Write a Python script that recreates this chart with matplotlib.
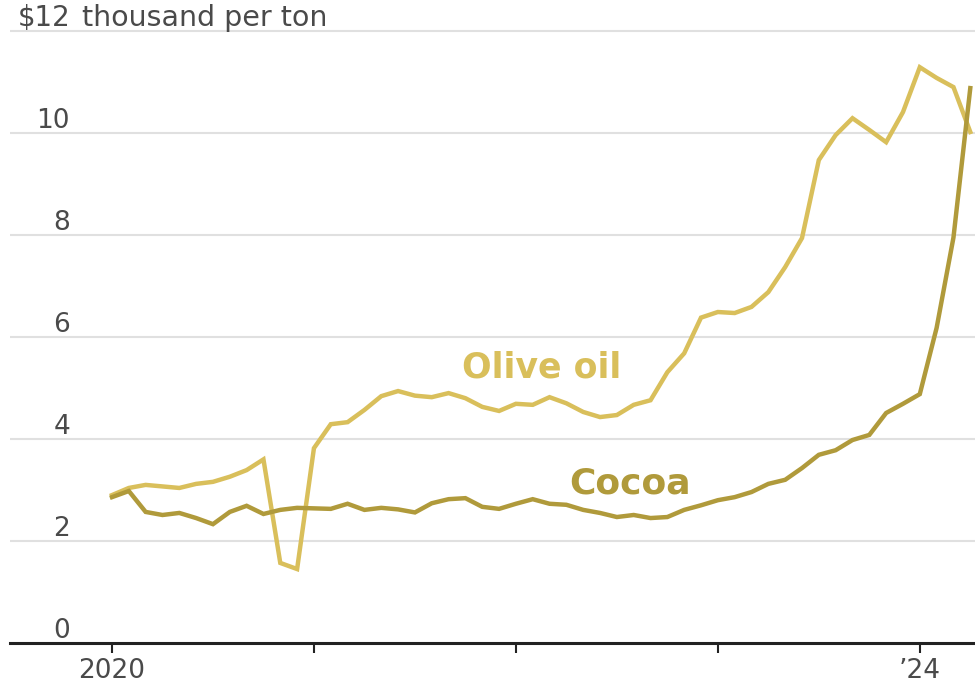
import matplotlib.pyplot as plt
from matplotlib.transforms import blended_transform_factory

# monthly prices, Jan 2020 .. Apr 2024, $ thousand per ton
months = list(range(52))
olive_oil = [
    2.90, 3.04, 3.10, 3.07, 3.04, 3.12, 3.16, 3.26, 3.39, 3.60,
    1.57, 1.45, 3.82, 4.29, 4.33, 4.57, 4.84, 4.94, 4.85, 4.82,
    4.90, 4.80, 4.63, 4.55, 4.69, 4.67, 4.82, 4.70, 4.53, 4.43,
    4.47, 4.67, 4.76, 5.31, 5.68, 6.38, 6.49, 6.47, 6.59, 6.88,
    7.37, 7.94, 9.47, 9.96, 10.29, 10.06, 9.82, 10.41, 11.29, 11.08,
    10.90, 10.02,
]
cocoa = [
    2.86, 2.98, 2.57, 2.51, 2.55, 2.45, 2.33, 2.57, 2.69, 2.53,
    2.61, 2.65, 2.64, 2.63, 2.73, 2.61, 2.65, 2.62, 2.56, 2.74,
    2.82, 2.84, 2.67, 2.63, 2.73, 2.82, 2.73, 2.71, 2.61, 2.55,
    2.47, 2.51, 2.45, 2.47, 2.61, 2.70, 2.80, 2.86, 2.96, 3.12,
    3.20, 3.43, 3.69, 3.78, 3.98, 4.08, 4.51, 4.69, 4.88, 6.18,
    7.95, 10.88,
]
yticks = [0, 2, 4, 6, 8, 10, 12]
xticks = [2020, 2021, 2022, 2023, 2024]
xtick_labels = ["2020", "", "", "", "\u201924"]

olive_color = "#d9bf5b"
cocoa_color = "#b09a3b"
text_color = "#4a4a4a"
font = "DejaVu Sans"

x = [2020 + m / 12 for m in months]

fig = plt.figure(figsize=(9.75, 6.92), dpi=100)
ax = fig.add_axes([10 / 975, 49 / 692, 965 / 975, 643 / 692])

ax.set_xlim(2020 - 6.06 / 12, 2020 + 51.28 / 12)
ax.set_ylim(0, 643 / 51)

for v in yticks[1:]:
    ax.axhline(v, color="#e0e0e0", lw=1.5, zorder=1)

ax.plot(x, olive_oil, color=olive_color, lw=3.2, solid_joinstyle="miter", zorder=3)
ax.plot(x, cocoa, color=cocoa_color, lw=3.2, solid_joinstyle="miter", zorder=4)

for s in ["top", "right", "left"]:
    ax.spines[s].set_visible(False)
ax.spines["bottom"].set_color("#222222")
ax.spines["bottom"].set_linewidth(2.2)

ax.set_yticks([])
ax.set_xticks(xticks)
ax.set_xticklabels(xtick_labels, fontsize=19, color=text_color, family=font)
ax.tick_params(axis="x", length=7, width=1.5, color="#222222", pad=4)

trans = blended_transform_factory(fig.transFigure, ax.transData)
for v in yticks:
    lab = "$" + str(v) if v == 12 else str(v)
    ax.text(70 / 975, v + 0.1, lab, transform=trans, ha="right", va="baseline",
            fontsize=19 if v < 12 else 20, color=text_color, family=font)
ax.text(82 / 975, 12 + 0.1, "thousand per ton", transform=trans, ha="left",
        va="baseline", fontsize=20.5, color=text_color, family=font)

ax.text(2020 + 25.5 / 12, 5.4, "Olive oil", ha="center", va="center",
        fontsize=25, fontweight="bold", color=olive_color, family=font)
ax.text(2020 + 30.8 / 12, 3.12, "Cocoa", ha="center", va="center",
        fontsize=26, fontweight="bold", color=cocoa_color, family=font)

fig.savefig("out.png", dpi=100)
